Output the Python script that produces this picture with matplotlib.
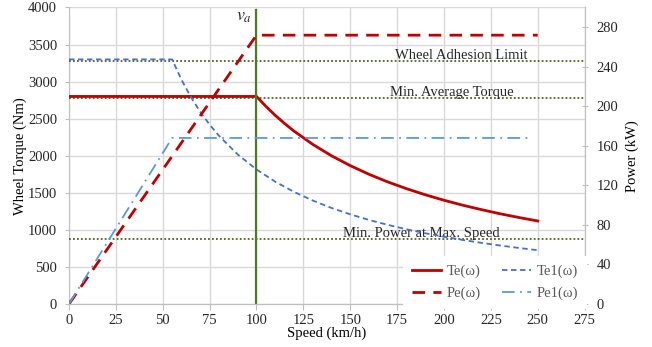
import matplotlib
matplotlib.use("Agg")
import matplotlib.pyplot as plt
from matplotlib.lines import Line2D

plt.rcParams['font.family'] = ['Liberation Serif', 'DejaVu Serif']
plt.rcParams['mathtext.fontset'] = 'stix'

# ---- data ----
te_speed = [0, 100, 105, 110, 115, 120, 130, 140, 150, 160, 170, 180, 190, 200, 210, 220, 230, 240, 250]
te_torque = [2800, 2800, 2667, 2545, 2435, 2333, 2154, 2000, 1867, 1750, 1647, 1556, 1474, 1400, 1333, 1273, 1217, 1167, 1120]

pe_speed = [0, 100, 250]
pe_power = [0, 272, 272]

te1_speed = [0, 55, 60, 65, 70, 75, 80, 90, 100, 110, 120, 130, 140, 150, 160, 170, 180, 190, 200, 210, 220, 230, 240, 250]
te1_torque = [3300, 3300, 3025, 2792, 2593, 2420, 2269, 2017, 1815, 1650, 1513, 1396, 1296, 1210, 1134, 1068, 1008, 955, 908, 864, 825, 789, 756, 726]

pe1_speed = [0, 55, 247]
pe1_power = [0, 168, 168]

limit_names = ["Wheel Adhesion Limit", "Min. Average Torque", "Min. Power at Max. Speed"]
limit_values = [3280, 2780, 880]
label_x = [209, 204, 188]

va_speed = 100
va_top = 3960

x_ticks = [0, 25, 50, 75, 100, 125, 150, 175, 200, 225, 250, 275]
y_ticks = [0, 500, 1000, 1500, 2000, 2500, 3000, 3500, 4000]
p_ticks = [0, 40, 80, 120, 160, 200, 240, 280]

# ---- figure ----
fig = plt.figure(figsize=(6.52, 3.47), dpi=100)
ax = fig.add_axes([0.1058, 0.1239, 0.7908, 0.8545])
ax2 = ax.twinx()

red = '#c00000'
blue = '#4472c4'
lblue = '#5b9bd5'
green = '#4f6228'
grid = '#d9d9d9'
tickc = '#262626'
fs = 10.5

ax.set_xlim(0, 275)
ax.set_ylim(0, 4000)
ax2.set_ylim(0, 300)
ax.set_xticks(x_ticks)
ax.set_yticks(y_ticks)
ax2.set_yticks(p_ticks)

ax.grid(True, color=grid, lw=1.0, zorder=0)
ax.set_axisbelow(True)

for a in (ax, ax2):
    for s in a.spines.values():
        s.set_color('#bfbfbf')
    a.spines['top'].set_visible(False)
ax2.spines['left'].set_visible(False)

ax.tick_params(axis='y', length=3, direction='out', labelsize=fs, colors=tickc, pad=5.5)
ax.tick_params(axis='y', color='#bfbfbf')
ax.tick_params(axis='x', length=4, direction='out', labelsize=fs, colors=tickc, pad=3)
ax.tick_params(axis='x', color='#bfbfbf')
ax2.tick_params(axis='y', length=5, direction='inout', labelsize=fs, colors=tickc, pad=6)
ax2.tick_params(axis='y', color='#bfbfbf')

ax.set_xlabel("Speed (km/h)", fontsize=fs, labelpad=0)
ax.set_ylabel("Wheel Torque (Nm)", fontsize=fs, labelpad=0.5)
ax2.set_ylabel("Power (kW)", fontsize=fs, rotation=90, labelpad=5)

# horizontal limits
for v in limit_values:
    ax.plot([0, 275], [v, v], color=green, lw=1.3, ls=(0, (1, 1.2)), zorder=3)
for name, v, lx in zip(limit_names, limit_values, label_x):
    ax.text(lx, v - 20, name, ha='center', va='bottom', fontsize=fs, color='#262626', zorder=4)

# curves
ax.plot(te_speed, te_torque, color=red, lw=2.0, zorder=5)
ax.plot(te1_speed, te1_torque, color=blue, lw=1.3, ls=(0, (3.0, 2.0)), zorder=5)
ax2.plot(pe_speed, pe_power, color=red, lw=2.0, ls=(0, (4.5, 3.0)), zorder=5)
ax2.plot(pe1_speed, pe1_power, color=lblue, lw=1.3, ls=(0, (7, 3, 1, 3)), zorder=5)

# va line
ax.plot([va_speed, va_speed], [0, va_top], color='#4f7a28', lw=1.6, zorder=6)
ax.text(va_speed - 2.5, 3760, r'$v_a$', ha='right', va='bottom', fontsize=13, color='#262626')

# legend
handles = [
    Line2D([], [], color=red, lw=2.0),
    Line2D([], [], color=red, lw=2.0, ls=(0, (4.5, 3.0))),
    Line2D([], [], color=blue, lw=1.3, ls=(0, (3.0, 2.0))),
    Line2D([], [], color=lblue, lw=1.3, ls=(0, (7, 3, 1, 3))),
]
labels = ["Te(\u03c9)", "Pe(\u03c9)", "Te1(\u03c9)", "Pe1(\u03c9)"]
leg = ax2.legend(handles, labels, ncol=2, loc='lower right', bbox_to_anchor=(1.0, -0.01),
                 frameon=True, fontsize=fs, handlelength=2.0, columnspacing=1.4,
                 borderaxespad=0.05, labelspacing=0.6, handletextpad=0.4)
leg.get_frame().set_facecolor('white')
leg.get_frame().set_edgecolor('none')
leg.get_frame().set_alpha(1.0)
leg.get_frame().set_boxstyle('square', pad=0.2)
for t in leg.get_texts():
    t.set_color('#595959')

fig.savefig("out.png", dpi=100)
